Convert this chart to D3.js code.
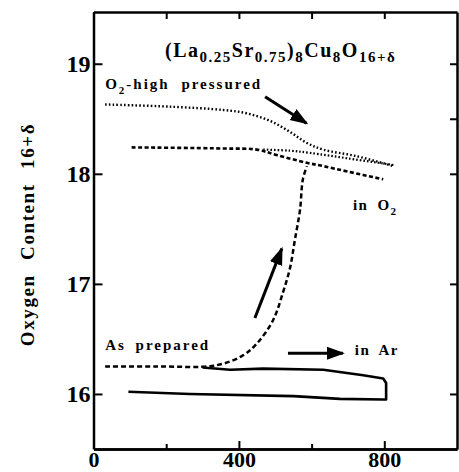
<!DOCTYPE html>
<html>
  <head>
    <meta charset="utf-8">
    <style>
      body { margin: 0; background: #fff; }
      text { font-family: "Liberation Serif", "Times New Roman", serif; font-weight: bold; fill: #000; }
      .axis path { stroke: #000; stroke-width: 2.5; }
      .axis line { stroke: #000; stroke-width: 2; }
      .axis text { font-size: 24px; font-family: "Liberation Serif", serif; font-weight: bold; }
      .axis.xlab text { font-size: 22px; }
      .curve { fill: none; stroke: #000; stroke-linejoin: round; }
    </style>
  </head>
  <body>
    <script src="https://cdn.jsdelivr.net/npm/d3@7/dist/d3.min.js"></script>
    <script>
      // temperature (x) vs oxygen content (y)
      var highPressured = [[32, 18.63], [210, 18.61], [357, 18.58], [421, 18.55], [486, 18.48],
        [541, 18.38], [587, 18.28], [632, 18.22], [724, 18.16], [825, 18.07]];
      var cooledO2 = [[105, 18.24], [357, 18.23], [449, 18.22], [504, 18.17], [587, 18.10],
        [632, 18.07], [700, 18.02], [797, 17.95]];
      var cooledO2Branch = [[467, 18.22], [541, 18.21], [596, 18.19], [700, 18.14], [825, 18.08]];
      var asPrepared = [[32, 16.25], [172, 16.25], [337, 16.26], [411, 16.35], [450, 16.46],
        [494, 16.67], [521, 16.92], [541, 17.15], [554, 17.40], [568, 17.67], [576, 17.95], [587, 18.07]];
      var inArLoop = [[300, 16.24], [376, 16.22], [467, 16.23], [632, 16.22], [742, 16.17],
        [797, 16.14], [805, 16.10], [805, 15.95], [797, 15.95], [678, 15.955], [550, 15.98],
        [265, 16.00], [96, 16.02]];

      var xLabelTicks = [0, 400, 800];
      var xMinorTicks = [200, 600];
      var yLabelTicks = [16, 17, 18, 19];
      var yRightTicks = [16, 17, 18, 18.5, 19];

      var titleParts = [["(La", 0], ["0.25", 1], ["Sr", 0], ["0.75", 1], [")", 0], ["8", 1],
        ["Cu", 0], ["8", 1], ["O", 0], ["16+δ", 1]];
      var highLabelParts = [["O", 0], ["2", 1], ["-high pressured", 0]];
      var inO2Parts = [["in O", 0], ["2", 1]];

      // annotation arrows, [x0, y0, x1, y1] in data units
      var arrows = [[472, 18.70, 586, 18.46], [444, 16.69, 518, 17.32], [535, 16.37, 686, 16.37]];

      var W = 459, H = 472;
      var plotL = 93.5, plotR = 457, plotT = 12, plotB = 449;

      var svg = d3.select("body").append("svg")
        .attr("width", W).attr("height", H);

      var x = d3.scaleLinear().domain([0, 1000]).range([plotL, plotR]);
      var y = d3.scaleLinear().domain([15.5, 19.47]).range([plotB, plotT]);

      svg.append("defs").append("marker")
        .attr("id", "head")
        .attr("markerUnits", "userSpaceOnUse")
        .attr("viewBox", "0 -7 18 14")
        .attr("markerWidth", 18).attr("markerHeight", 14)
        .attr("refX", 16).attr("refY", 0)
        .attr("orient", "auto")
        .append("path").attr("d", "M0,-6.5L18,0L0,6.5Z").attr("fill", "#000");

      // frame + ticks
      svg.append("g").attr("class", "axis")
        .attr("transform", "translate(" + plotL + ",0)")
        .call(d3.axisLeft(y).tickValues(yLabelTicks).tickSizeInner(-9).tickSizeOuter(0).tickPadding(3)
          .tickFormat(d3.format("d")));
      svg.append("g").attr("class", "axis")
        .attr("transform", "translate(" + plotR + ",0)")
        .call(d3.axisRight(y).tickValues(yRightTicks).tickSizeInner(-7).tickSizeOuter(0).tickFormat(""));
      svg.append("g").attr("class", "axis xlab")
        .attr("transform", "translate(0," + plotB + ")")
        .call(d3.axisBottom(x).tickValues(xLabelTicks).tickSizeInner(-8).tickSizeOuter(0).tickPadding(2));
      svg.append("g").attr("class", "axis")
        .attr("transform", "translate(0," + plotB + ")")
        .call(d3.axisBottom(x).tickValues(xMinorTicks).tickSizeInner(-5).tickSizeOuter(0).tickFormat(""));
      svg.append("g").attr("class", "axis")
        .attr("transform", "translate(0," + plotT + ")")
        .call(d3.axisTop(x).tickValues(xLabelTicks.concat(xMinorTicks)).tickSizeInner(-7).tickSizeOuter(0).tickFormat(""));

      var line = d3.line()
        .x(function(d) { return x(d[0]); })
        .y(function(d) { return y(d[1]); });
      var smooth = d3.line()
        .curve(d3.curveCatmullRom.alpha(0.5))
        .x(function(d) { return x(d[0]); })
        .y(function(d) { return y(d[1]); });

      svg.append("path").datum(highPressured).attr("class", "curve")
        .attr("stroke-width", 2.4).attr("stroke-dasharray", "1.6,2.2").attr("d", smooth);
      svg.append("path").datum(cooledO2).attr("class", "curve")
        .attr("stroke-width", 2.6).attr("stroke-dasharray", "4,2.5").attr("d", smooth);
      svg.append("path").datum(cooledO2Branch).attr("class", "curve")
        .attr("stroke-width", 2.2).attr("stroke-dasharray", "1.6,2").attr("d", smooth);
      svg.append("path").datum(asPrepared).attr("class", "curve")
        .attr("stroke-width", 2.5).attr("stroke-dasharray", "5,3").attr("d", smooth);
      svg.append("path").datum(inArLoop).attr("class", "curve")
        .attr("stroke-width", 2.6).attr("d", line);

      svg.selectAll(".arrow").data(arrows).enter().append("line")
        .attr("class", "arrow")
        .attr("x1", function(d) { return x(d[0]); })
        .attr("y1", function(d) { return y(d[1]); })
        .attr("x2", function(d) { return x(d[2]); })
        .attr("y2", function(d) { return y(d[3]); })
        .attr("stroke", "#000").attr("stroke-width", 3)
        .attr("marker-end", "url(#head)");

      function richText(parts, px, py, size, subSize, spacing) {
        var t = svg.append("text")
          .attr("x", px).attr("y", py)
          .style("font-size", size + "px")
          .style("letter-spacing", spacing + "px");
        var shifted = 0;
        parts.forEach(function(p) {
          var dy = p[1] ? 5 - shifted : -shifted;
          shifted += dy;
          t.append("tspan")
            .attr("dy", dy)
            .style("font-size", (p[1] ? subSize : size) + "px")
            .text(p[0]);
        });
        return t;
      }

      richText(titleParts, x(197), y(19.06), 20, 15, 1.5);
      richText(highLabelParts, x(32), y(18.77), 15, 11, 2).style("word-spacing", "6px");
      richText(inO2Parts, x(714), y(17.67), 15, 11, 1.4).style("word-spacing", "4px");
      svg.append("text").attr("x", x(32)).attr("y", y(16.4))
        .style("font-size", "15px").style("letter-spacing", "2px").style("word-spacing", "4px")
        .text("As prepared");
      svg.append("text").attr("x", x(719)).attr("y", y(16.35))
        .style("font-size", "15px").style("letter-spacing", "1.4px").style("word-spacing", "4px")
        .text("in Ar");

      svg.append("text")
        .attr("transform", "translate(34," + ((plotT + plotB) / 2 + 4) + ") rotate(-90)")
        .attr("text-anchor", "middle")
        .style("font-size", "19px").style("letter-spacing", "1.6px").style("word-spacing", "8px")
        .text("Oxygen Content 16+δ");
    </script>
  </body>
</html>
